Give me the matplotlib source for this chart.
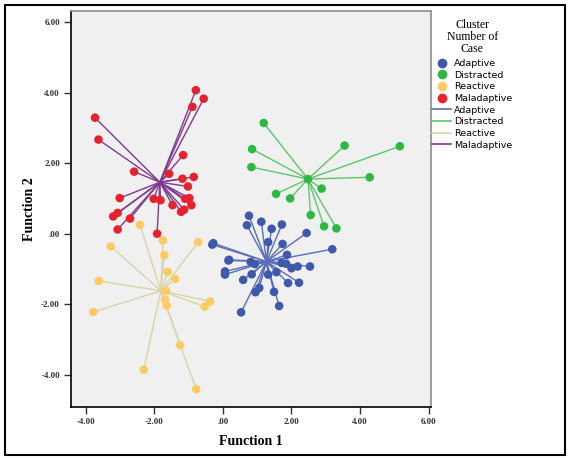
import numpy as np
import matplotlib.pyplot as plt
from matplotlib.lines import Line2D
from matplotlib.patches import Rectangle

# discriminant scores per cluster (Function 1, Function 2)
adaptive_x = [0.76, 0.70, 1.12, 1.42, 1.72, 2.44, 1.32, 1.74, -0.28, -0.31, 3.19, 1.87,
              0.18, 0.16, 0.81, 0.93, 1.71, 1.84, 2.18, 2.00, 2.54, 1.56, 0.06, 0.06,
              0.84, 1.32, 0.59, 1.90, 2.22, 1.06, 0.95, 1.49, 1.64, 0.53]
adaptive_y = [0.51, 0.24, 0.34, 0.14, 0.26, 0.02, -0.24, -0.29, -0.27, -0.31, -0.44, -0.60,
              -0.74, -0.76, -0.80, -0.86, -0.83, -0.85, -0.93, -0.98, -0.93, -1.09, -1.07, -1.16,
              -1.15, -1.16, -1.31, -1.40, -1.39, -1.54, -1.66, -1.65, -2.05, -2.23]

distracted_x = [1.19, 0.85, 3.55, 5.16, 0.83, 4.28, 2.48, 2.88, 1.55, 1.96, 2.56, 2.95, 3.31]
distracted_y = [3.14, 2.40, 2.50, 2.48, 1.89, 1.60, 1.55, 1.28, 1.13, 1.00, 0.53, 0.21, 0.15]

reactive_x = [-2.42, -1.75, -3.27, -0.72, -1.71, -1.61, -1.39, -3.62, -1.66, -1.69, -1.64,
              -0.37, -0.53, -3.78, -1.25, -2.31, -0.78]
reactive_y = [0.25, -0.19, -0.36, -0.24, -0.61, -1.08, -1.28, -1.34, -1.62, -1.875, -2.04,
              -1.92, -2.07, -2.22, -3.16, -3.86, -4.41]

maladaptive_x = [-0.79, -0.56, -0.89, -3.73, -3.63, -1.16, -2.59, -1.57, -1.18, -0.85, -1.02,
                 -3.01, -2.02, -1.82, -0.98, -1.10, -1.47, -0.92, -1.13, -1.22, -3.07, -3.20,
                 -2.71, -3.07, -1.92]
maladaptive_y = [4.07, 3.83, 3.60, 3.29, 2.67, 2.23, 1.76, 1.70, 1.56, 1.61, 1.34,
                 1.01, 0.99, 0.95, 1.01, 0.99, 0.81, 0.81, 0.68, 0.62, 0.59, 0.49,
                 0.43, 0.12, 0.00]

# group centroids
centroids = {
    'Adaptive': (1.27, -0.79),
    'Distracted': (2.48, 1.55),
    'Reactive': (-1.81, -1.62),
    'Maladaptive': (-1.84, 1.46),
}

clusters = ['Adaptive', 'Distracted', 'Reactive', 'Maladaptive']
data = {
    'Adaptive': (adaptive_x, adaptive_y),
    'Distracted': (distracted_x, distracted_y),
    'Reactive': (reactive_x, reactive_y),
    'Maladaptive': (maladaptive_x, maladaptive_y),
}
point_colors = {'Adaptive': '#3E58AC', 'Distracted': '#2DB843',
                'Reactive': '#FDCB64', 'Maladaptive': '#E8212F'}
line_colors = {'Adaptive': '#5A6DB8', 'Distracted': '#5DC66C',
               'Reactive': '#D9D4A6', 'Maladaptive': '#7E3A8E'}

fig = plt.figure(figsize=(5.7, 4.58), dpi=100)
fig.patches.append(Rectangle((0.008, 0.006), 0.984, 0.984, transform=fig.transFigure,
                             fill=False, edgecolor='black', linewidth=1.5))
ax = fig.add_axes([0.1246, 0.111, 0.631, 0.866])
ax.set_facecolor('#F0F0F0')

# lines first (drawn in cluster order), points on top
for name in clusters:
    cx, cy = centroids[name]
    xs, ys = data[name]
    for x, y in zip(xs, ys):
        ax.plot([cx, x], [cy, y], color=line_colors[name], linewidth=1.0, zorder=2)
for name in clusters:
    xs, ys = data[name]
    ax.scatter(xs, ys, s=38, color=point_colors[name], edgecolors='none', zorder=3)

ax.set_xlim(-4.43, 6.06)
ax.set_ylim(-4.92, 6.33)
xt = [-4, -2, 0, 2, 4, 6]
yt = [-4, -2, 0, 2, 4, 6]
ax.set_xticks(xt)
ax.set_yticks(yt)
ax.set_xticklabels(['-4.00', '-2.00', '.00', '2.00', '4.00', '6.00'])
ax.set_yticklabels(['-4.00', '-2.00', '.00', '2.00', '4.00', '6.00'])
for lab in ax.get_xticklabels() + ax.get_yticklabels():
    lab.set_fontfamily('Liberation Serif')
    lab.set_fontweight('bold')
    lab.set_fontsize(6.5)
    lab.set_color('#333333')
ax.tick_params(direction='out', length=5, width=1, color='#333333', pad=3)

ax.spines['left'].set_color('black')
ax.spines['bottom'].set_color('black')
ax.spines['top'].set_color('#8C8C8C')
ax.spines['right'].set_color('#8C8C8C')
for s in ax.spines.values():
    s.set_linewidth(1.2)

ax.set_xlabel('Function 1', fontfamily='Liberation Serif', fontweight='bold', fontsize=10, labelpad=6)
ax.set_ylabel('Function 2', fontfamily='Liberation Serif', fontweight='bold', fontsize=10, labelpad=4)

handles = []
for name in clusters:
    handles.append(Line2D([], [], linestyle='none', marker='o', markersize=7,
                          markerfacecolor=point_colors[name], markeredgecolor='none'))
for name in clusters:
    handles.append(Line2D([], [], color=line_colors[name], linewidth=1.2))
labels = clusters + clusters
leg = fig.legend(handles, labels, loc='upper left', bbox_to_anchor=(0.752, 0.967),
                 frameon=False, title='Cluster\nNumber of\nCase', fontsize=6.8,
                 title_fontsize=8.5, handlelength=2.0, handletextpad=0.25,
                 labelspacing=0.28, borderaxespad=0)
leg.get_title().set_multialignment('center')
leg.get_title().set_fontfamily('Liberation Serif')
leg.get_title().set_linespacing(1.0)
leg._legend_box.sep = 3

fig.savefig('out.png', dpi=100)
